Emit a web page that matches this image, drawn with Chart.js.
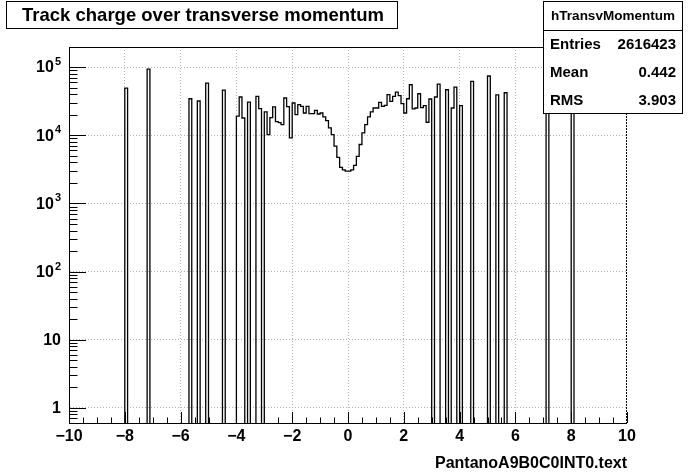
<!DOCTYPE html>
<html>
<head>
<meta charset="utf-8">
<script src="https://cdn.jsdelivr.net/npm/chart.js@4.4.1/dist/chart.umd.min.js"></script>
<style>
  html, body { margin: 0; padding: 0; background: #fff; }
  #wrap { width: 696px; height: 472px; position: relative; }
</style>
</head>
<body>
<div id="wrap"><canvas id="hist" width="696" height="472"></canvas></div>
<script>
// hTransvMomentum: 200 bins of 0.1 from -10 to 10
const xMin = -10;
const xMax = 10;
const binWidth = 0.1;

// isolated bins: low edge and content
const spikeEdges = [-8.0, -7.2, -5.7, -5.4, -5.1, -4.5, -4.0, -3.9, -3.8, -3.6, -3.3, -3.2,
  3.1, 3.2, 3.5, 3.7, 3.8, 4.0, 4.4, 5.0, 5.3, 5.6, 7.1, 8.0];
const spikeCounts = [49200, 93200, 34300, 31800, 58200, 46000, 19100, 36400, 17900, 30700, 37100, 24500,
  36400, 56300, 46500, 25100, 50900, 27100, 61800, 73900, 39000, 42000, 60000, 60000];

// continuous part, bins starting at -3.0 up to 2.9
const coreStart = -3.0;
const coreCounts = [
  22000, 10200, 18100, 26000, 15800, 15300, 14300, 35200, 26200, 9160,
  29700, 20100, 28100, 26500, 21200, 26500, 20700, 20700, 23200, 20500,
  21200, 18600, 16400, 12800, 10200, 6910, 4730, 3380, 3100, 2980,
  2980, 3100, 3610, 4890, 7310, 10800, 14300, 18600, 22000, 25100,
  25100, 30300, 26500, 27400, 39300, 31400, 37100, 43000, 38000, 29000,
  21200, 34300, 55000, 24300, 25100, 40600, 25400, 27100, 15500, 34000
];

const xTickValues = [-10, -8, -6, -4, -2, 0, 2, 4, 6, 8, 10];
const xTickLabels = ["\u221210", "\u22128", "\u22126", "\u22124", "\u22122", "0", "2", "4", "6", "8", "10"];
const yDecades = [1, 10, 100, 1000, 10000, 100000];
const yTickBase = ["1", "10", "10", "10", "10", "10"];
const yTickExp = ["", "", "2", "3", "4", "5"];
const yMin = 0.64;
const yMax = 197000;

const histTitle = "Track charge over transverse momentum";
const xTitle = "PantanoA9B0C0INT0.text";
const statTitle = "hTransvMomentum";
const statNames = ["Entries", "Mean", "RMS"];
const statValues = ["2616423", "0.442", "3.903"];

const FONT = '"Liberation Sans", Arial, Helvetica, sans-serif';

// fill the bin contents
const nBins = Math.round((xMax - xMin) / binWidth);
const counts = new Array(nBins).fill(0);
function binIndex(edge) {
  return Math.round((edge - xMin) / binWidth);
}
spikeEdges.forEach((e, k) => { counts[binIndex(e)] = spikeCounts[k]; });
coreCounts.forEach((c, k) => { counts[binIndex(coreStart) + k] = c; });

// empty bins drop below the log frame and get clipped at its bottom, as in ROOT
const floorValue = yMin / 10;
const points = counts.map((c, i) => ({ x: xMin + i * binWidth, y: c > 0 ? c : floorValue }));
points.push({ x: xMax, y: floorValue });

function line(ctx, x1, y1, x2, y2) {
  ctx.beginPath();
  ctx.moveTo(x1, y1);
  ctx.lineTo(x2, y2);
  ctx.stroke();
}

// frame, ticks inside the frame, labels and the two boxes
const rootDecor = {
  id: "rootDecor",
  afterDraw(chart) {
    const { ctx, chartArea: a } = chart;
    const x = chart.scales.x;
    const y = chart.scales.y;
    ctx.save();
    ctx.strokeStyle = "#000";
    ctx.lineWidth = 1;

    // frame: top, bottom, and the right side
    line(ctx, a.left, a.top + 0.5, a.right, a.top + 0.5);
    line(ctx, a.left, a.bottom + 0.5, a.right, a.bottom + 0.5);
    ctx.setLineDash([2, 1]);
    line(ctx, a.right - 0.5, a.top, a.right - 0.5, a.bottom);
    ctx.setLineDash([]);

    // x ticks every 0.5, long ones every 2
    for (let k = xMin * 2; k <= xMax * 2; k++) {
      const v = k / 2;
      const px = Math.round(x.getPixelForValue(v)) + 0.5;
      const len = (k % 4 === 0) ? 11 : 5.5;
      line(ctx, px, a.bottom, px, a.bottom - len);
    }

    // y ticks, decades long, 2..9 short
    for (let d = 0.1; d <= yMax; d *= 10) {
      for (let m = 1; m <= 9; m++) {
        const v = d * m;
        if (v < yMin || v > yMax) continue;
        const py = Math.round(y.getPixelForValue(v)) + 0.5;
        const len = (m === 1) ? 17 : 8.5;
        line(ctx, a.left, py, a.left + len, py);
      }
    }

    // x labels
    ctx.fillStyle = "#000";
    ctx.font = "bold 16px " + FONT;
    ctx.textAlign = "center";
    ctx.textBaseline = "middle";
    xTickValues.forEach((v, i) => {
      ctx.fillText(xTickLabels[i], x.getPixelForValue(v), 437);
    });

    // y labels with exponents
    const rightEdge = 61;
    yDecades.forEach((v, i) => {
      const py = y.getPixelForValue(v);
      ctx.font = "bold 11px " + FONT;
      const expW = yTickExp[i] ? ctx.measureText(yTickExp[i]).width + 1 : 0;
      if (yTickExp[i]) {
        ctx.textAlign = "left";
        ctx.textBaseline = "alphabetic";
        ctx.fillText(yTickExp[i], rightEdge - expW + 1, py - 2);
      }
      ctx.font = "bold 16px " + FONT;
      ctx.textAlign = "right";
      ctx.textBaseline = "middle";
      ctx.fillText(yTickBase[i], rightEdge - expW, py + 1);
    });

    // axis title
    ctx.textAlign = "right";
    ctx.textBaseline = "alphabetic";
    ctx.fillText(xTitle, a.right, 468);

    // title box
    ctx.fillStyle = "#fff";
    ctx.fillRect(7, 2, 390, 27);
    ctx.strokeRect(6.5, 1.5, 391, 27);
    ctx.fillStyle = "#000";
    ctx.font = "bold 18.5px " + FONT;
    ctx.textAlign = "center";
    ctx.textBaseline = "middle";
    ctx.fillText(histTitle, 203, 16);

    // stats box
    ctx.fillStyle = "#fff";
    ctx.fillRect(543, 1, 140, 113);
    ctx.strokeRect(543.5, 1.5, 139, 112);
    line(ctx, 543.5, 30.5, 682.5, 30.5);
    ctx.fillStyle = "#000";
    ctx.font = "bold 13.5px " + FONT;
    ctx.textAlign = "center";
    ctx.fillText(statTitle, 613, 16);
    ctx.font = "bold 15px " + FONT;
    statNames.forEach((name, i) => {
      const ty = 45 + i * 28;
      ctx.textAlign = "left";
      ctx.fillText(name, 550, ty);
      ctx.textAlign = "right";
      ctx.fillText(statValues[i], 676, ty);
    });
    ctx.restore();
  }
};

const ctx = document.getElementById("hist");
new Chart(ctx, {
  type: "line",
  data: {
    datasets: [{
      label: statTitle,
      data: points,
      stepped: "before",
      borderColor: "#000",
      borderWidth: 1.3,
      pointRadius: 0,
      fill: false,
      tension: 0,
      clip: 0
    }]
  },
  options: {
    responsive: false,
    animation: false,
    devicePixelRatio: 1,
    layout: { padding: { left: 0, top: 47, right: 69, bottom: 0 } },
    plugins: {
      legend: { display: false },
      tooltip: { enabled: false },
      title: { display: false }
    },
    scales: {
      x: {
        type: "linear",
        min: xMin,
        max: xMax,
        ticks: { display: false, stepSize: 2 },
        grid: {
          drawTicks: false,
          color: (c) => (c.tick && Math.abs(c.tick.value) === 10) ? "rgba(0,0,0,0)" : "#b4b4b4"
        },
        border: { display: false, dash: [1, 2] },
        afterFit: (s) => { s.height = 49; }
      },
      y: {
        type: "logarithmic",
        min: yMin,
        max: yMax,
        ticks: { display: false },
        afterBuildTicks: (s) => { s.ticks = yDecades.map((v) => ({ value: v })); },
        grid: { drawTicks: false, color: "#b4b4b4" },
        border: { display: true, color: "#000", width: 1, dash: [1, 2] },
        afterFit: (s) => { s.width = 69; }
      }
    }
  },
  plugins: [rootDecor]
});
</script>
</body>
</html>
